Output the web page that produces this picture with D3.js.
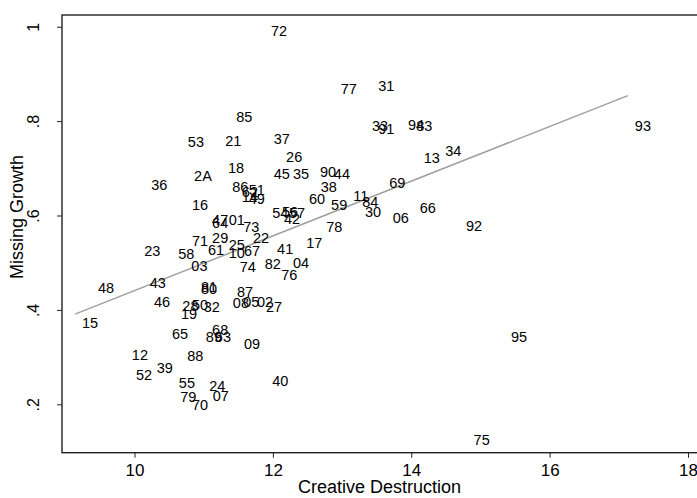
<!DOCTYPE html>
<html>
<head>
<meta charset="utf-8">
<script src="https://cdn.jsdelivr.net/npm/d3@7"></script>
<style>
  body { margin: 0; background: #fff; }
  text { font-family: "Liberation Sans", Arial, sans-serif; fill: #000; }
</style>
</head>
<body>
<div id="chart"></div>
<script>
var svgWidth = 697;
var svgHeight = 498;

// departement labels with (creative destruction, missing growth)
var labels = ["72","77","31","85","53","21","37","33","91","94","83","93","13","34","26","18","2A","45","35","90","44","36","38","86","62","51","14","49","69","11","84","30","06","66","92","60","59","16","54","56","57","42","64","47","01","73","78","71","29","22","17","23","58","61","25","10","67","41","03","74","82","04","76","43","48","15","81","80","87","46","28","50","19","32","08","05","02","27","65","89","68","63","09","95","12","88","52","39","55","24","79","07","70","40","75"];
var creative = [11.87,12.88,13.42,11.37,10.67,11.21,11.91,13.33,13.42,13.85,13.97,17.13,14.08,14.39,12.09,11.25,10.76,11.91,12.19,12.58,12.78,10.14,12.59,11.31,11.45,11.55,11.45,11.55,13.58,13.06,13.19,13.23,13.63,14.02,14.69,12.42,12.74,10.73,11.89,12.03,12.13,12.06,11.02,11.02,11.26,11.47,12.67,10.73,11.02,11.61,12.38,10.04,10.53,10.96,11.26,11.26,11.48,11.96,10.72,11.42,11.78,12.19,12.02,10.12,9.37,9.14,10.86,10.86,11.38,10.18,10.59,10.73,10.57,10.90,11.32,11.47,11.67,11.80,10.44,10.93,11.02,11.06,11.48,15.34,9.86,10.66,9.92,10.22,10.54,10.98,10.56,11.03,10.73,11.89,14.80];
var missing = [0.991,0.868,0.874,0.809,0.756,0.758,0.762,0.790,0.783,0.792,0.790,0.790,0.722,0.737,0.724,0.701,0.684,0.688,0.688,0.692,0.688,0.665,0.661,0.661,0.650,0.654,0.639,0.635,0.669,0.641,0.629,0.607,0.595,0.616,0.578,0.635,0.622,0.622,0.605,0.607,0.605,0.593,0.584,0.590,0.590,0.576,0.576,0.546,0.552,0.552,0.542,0.525,0.518,0.527,0.538,0.521,0.525,0.529,0.493,0.491,0.497,0.500,0.474,0.457,0.446,0.372,0.449,0.444,0.438,0.417,0.408,0.410,0.391,0.406,0.415,0.417,0.417,0.406,0.349,0.343,0.357,0.343,0.328,0.343,0.304,0.302,0.262,0.277,0.245,0.239,0.215,0.218,0.199,0.249,0.125];

var xTicks = [10, 12, 14, 16, 18];
var yTicks = [0.2, 0.4, 0.6, 0.8, 1];
var yTickLabels = [".2", ".4", ".6", ".8", "1"];

// linear fit
var fitIntercept = -0.1386;
var fitSlope = 0.05795;

var plot = { left: 62, right: 697, top: 15, bottom: 452.7 };

var svg = d3.select("#chart")
  .append("svg")
  .attr("width", svgWidth)
  .attr("height", svgHeight);

var xScale = d3.scaleLinear()
  .domain([8.952, 18.13])
  .range([plot.left, plot.right]);

var yScale = d3.scaleLinear()
  .domain([0.0975, 1.0248])
  .range([plot.bottom, plot.top]);

// frame
svg.append("rect")
  .attr("x", plot.left)
  .attr("y", plot.top)
  .attr("width", plot.right - plot.left + 5)
  .attr("height", plot.bottom - plot.top)
  .attr("fill", "none")
  .attr("stroke", "#222")
  .attr("stroke-width", 1.4);

var bottomAxis = d3.axisBottom(xScale)
  .tickValues(xTicks)
  .tickSize(5)
  .tickPadding(2)
  .tickFormat(d3.format("d"));

var xAxisG = svg.append("g")
  .attr("transform", `translate(0, ${plot.bottom})`)
  .call(bottomAxis);
xAxisG.select(".domain").remove();
xAxisG.selectAll("line").attr("stroke", "#222");
xAxisG.selectAll("text")
  .style("font-size", "17px")
  .attr("fill", "#000")
  .attr("y", 11);

var leftAxis = d3.axisLeft(yScale)
  .tickValues(yTicks)
  .tickSize(5)
  .tickFormat((d, i) => yTickLabels[i]);

var yAxisG = svg.append("g")
  .attr("transform", `translate(${plot.left}, 0)`)
  .call(leftAxis);
yAxisG.select(".domain").remove();
yAxisG.selectAll("line").attr("stroke", "#222");
yAxisG.selectAll("text")
  .style("font-size", "16px")
  .attr("fill", "#000")
  .attr("text-anchor", "middle")
  .attr("x", 0)
  .attr("dy", 0)
  .attr("transform", "translate(-23, 0) rotate(-90)");

// fitted line
var xMin = d3.min(creative);
var xMax = d3.max(creative);
svg.append("line")
  .attr("x1", xScale(xMin))
  .attr("y1", yScale(fitIntercept + fitSlope * xMin))
  .attr("x2", xScale(xMax))
  .attr("y2", yScale(fitIntercept + fitSlope * xMax))
  .attr("stroke", "#a0a0a0")
  .attr("stroke-width", 1.5);

// point labels
svg.append("g")
  .selectAll("text")
  .data(labels)
  .enter()
  .append("text")
  .attr("x", (d, i) => xScale(creative[i]) + 7)
  .attr("y", (d, i) => yScale(missing[i]))
  .attr("dy", "0.36em")
  .style("font-size", "14.5px")
  .text(d => d);

// axis titles
svg.append("text")
  .attr("x", (plot.left + plot.right) / 2)
  .attr("y", 493)
  .attr("text-anchor", "middle")
  .style("font-size", "18px")
  .text("Creative Destruction");

svg.append("text")
  .attr("transform", "translate(23, 217) rotate(-90)")
  .attr("text-anchor", "middle")
  .style("font-size", "18px")
  .text("Missing Growth");
</script>
</body>
</html>
